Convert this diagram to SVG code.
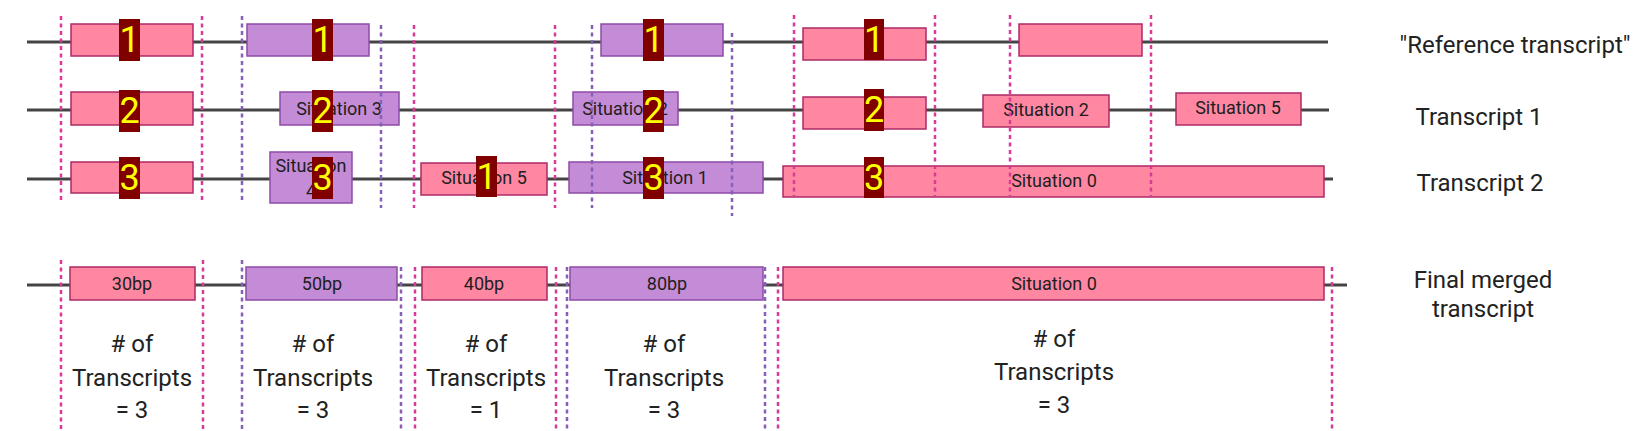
<svg xmlns="http://www.w3.org/2000/svg" width="1639" height="431" viewBox="0 0 1639 431">
<style>
.bg{fill:#ffffff}
.tl{stroke:#444444;stroke-width:3;fill:none}
.pk{fill:#ff87a1;stroke:#ad2a66;stroke-width:1.5}
.pu{fill:#c48bd7;stroke:#8e4ba8;stroke-width:1.5}
.gp{stroke:#d63c97;stroke-width:2.5;stroke-dasharray:4 3.5;fill:none}
.gv{stroke:#8560b8;stroke-width:2.5;stroke-dasharray:4 3.5;fill:none}
.bd{fill:#800000}
.bn{font-family:Roboto,"Liberation Sans",sans-serif;font-size:36px;fill:#ffff00;text-anchor:middle}
.st{font-family:Roboto,"Liberation Sans",sans-serif;font-size:18px;fill:#1e1e1e;text-anchor:middle}
.lb{font-family:Roboto,"Liberation Sans",sans-serif;font-size:24px;fill:#222222;text-anchor:middle}
</style>
<rect class="bg" x="0" y="0" width="1639" height="431"/>
<g id="connectors">
<line class="tl" x1="27" y1="42" x2="1328" y2="42"/>
<line class="tl" x1="27" y1="110" x2="1329" y2="110"/>
<line class="tl" x1="27" y1="179" x2="1333" y2="179"/>
<line class="tl" x1="27" y1="285" x2="1347" y2="285"/>
</g>
<g id="ref-transcript">
<g id="r1-e1"><rect class="pk" x="71" y="24" width="122" height="32"/><rect class="bd" x="119" y="19" width="21" height="42"/><text class="bn" x="129.5" y="52">1</text></g>
<g id="r1-e2"><rect class="pu" x="247" y="24" width="122" height="32"/><rect class="bd" x="312" y="19" width="21" height="42"/><text class="bn" x="322.5" y="52">1</text></g>
<g id="r1-e3"><rect class="pu" x="601" y="24" width="122" height="32"/><rect class="bd" x="643" y="19" width="21" height="42"/><text class="bn" x="653.5" y="52">1</text></g>
<g id="r1-e4"><rect class="pk" x="803" y="28" width="123" height="32"/><rect class="bd" x="864" y="19" width="20" height="41"/><text class="bn" x="874" y="52">1</text></g>
<g id="r1-e5"><rect class="pk" x="1019" y="24" width="123" height="32"/></g>
</g>
<g id="transcript-1">
<g id="t1-e1"><rect class="pk" x="71" y="92" width="122" height="33"/><rect class="bd" x="119" y="90" width="21" height="42"/><text class="bn" x="129.5" y="123">2</text></g>
<g id="t1-e2"><rect class="pu" x="280" y="92" width="119" height="33"/><text class="st" x="339" y="115">Situation 3</text><rect class="bd" x="312" y="90" width="21" height="42"/><text class="bn" x="322.5" y="123">2</text></g>
<g id="t1-e3"><rect class="pu" x="573" y="92" width="105" height="33"/><text class="st" x="625" y="115">Situation 2</text><rect class="bd" x="643" y="90" width="21" height="42"/><text class="bn" x="653.5" y="123">2</text></g>
<g id="t1-e4"><rect class="pk" x="803" y="97" width="123" height="32"/><rect class="bd" x="864" y="89" width="20" height="42"/><text class="bn" x="874" y="122">2</text></g>
<g id="t1-e5"><rect class="pk" x="983" y="95" width="126" height="32"/><text class="st" x="1046" y="116">Situation 2</text></g>
<g id="t1-e6"><rect class="pk" x="1176" y="93" width="125" height="32"/><text class="st" x="1238" y="114">Situation 5</text></g>
</g>
<g id="transcript-2">
<g id="t2-e1"><rect class="pk" x="71" y="162" width="122" height="31"/><rect class="bd" x="119" y="157" width="21" height="42"/><text class="bn" x="129.5" y="190">3</text></g>
<g id="t2-e2"><rect class="pu" x="270" y="152" width="82" height="51"/><text class="st" x="311" y="172">Situation</text><text class="st" x="311" y="197">4</text><rect class="bd" x="312" y="157" width="21" height="42"/><text class="bn" x="322.5" y="190">3</text></g>
<g id="t2-e3"><rect class="pk" x="421" y="163" width="126" height="32"/><text class="st" x="484" y="184">Situation 5</text><rect class="bd" x="476" y="156" width="21" height="41"/><text class="bn" x="486.5" y="189">1</text></g>
<g id="t2-e4"><rect class="pu" x="569" y="162" width="194" height="31"/><text class="st" x="665" y="184">Situation 1</text><rect class="bd" x="643" y="157" width="21" height="42"/><text class="bn" x="653.5" y="190">3</text></g>
<g id="t2-e5"><rect class="pk" x="783" y="166" width="541" height="31"/><text class="st" x="1054" y="187">Situation 0</text><rect class="bd" x="864" y="157" width="20" height="41"/><text class="bn" x="874" y="190">3</text></g>
</g>
<g id="merged-transcript">
<g id="m-e1"><rect class="pk" x="70" y="267" width="125" height="33"/><text class="st" x="132" y="290">30bp</text></g>
<g id="m-e2"><rect class="pu" x="246" y="267" width="151" height="33"/><text class="st" x="322" y="290">50bp</text></g>
<g id="m-e3"><rect class="pk" x="422" y="267" width="125" height="33"/><text class="st" x="484" y="290">40bp</text></g>
<g id="m-e4"><rect class="pu" x="570" y="267" width="193" height="33"/><text class="st" x="667" y="290">80bp</text></g>
<g id="m-e5"><rect class="pk" x="783" y="267" width="541" height="33"/><text class="st" x="1054" y="290">Situation 0</text></g>
</g>
<g id="guides">
<line class="gp" x1="61" y1="16" x2="61" y2="200"/>
<line class="gp" x1="202" y1="16" x2="202" y2="200"/>
<line class="gv" x1="242" y1="16" x2="242" y2="200"/>
<line class="gv" x1="381" y1="25" x2="381" y2="208"/>
<line class="gp" x1="414" y1="25" x2="414" y2="208"/>
<line class="gp" x1="555" y1="25" x2="555" y2="208"/>
<line class="gv" x1="592" y1="25" x2="592" y2="208"/>
<line class="gv" x1="732" y1="33" x2="732" y2="216"/>
<line class="gp" x1="794" y1="15" x2="794" y2="197"/>
<line class="gp" x1="935" y1="15" x2="935" y2="197"/>
<line class="gp" x1="1010" y1="15" x2="1010" y2="197"/>
<line class="gp" x1="1151" y1="15" x2="1151" y2="197"/>
<line class="gp" x1="61" y1="260" x2="61" y2="431"/>
<line class="gp" x1="203" y1="260" x2="203" y2="431"/>
<line class="gv" x1="242" y1="260" x2="242" y2="431"/>
<line class="gv" x1="401" y1="267" x2="401" y2="431"/>
<line class="gp" x1="415" y1="267" x2="415" y2="431"/>
<line class="gp" x1="556" y1="267" x2="556" y2="431"/>
<line class="gv" x1="567" y1="267" x2="567" y2="431"/>
<line class="gv" x1="765" y1="267" x2="765" y2="431"/>
<line class="gp" x1="778" y1="267" x2="778" y2="431"/>
<line class="gp" x1="1332" y1="267" x2="1332" y2="431"/>
</g>
<g id="labels">
<text class="lb" x="1515" y="53">"Reference transcript"</text>
<text class="lb" x="1479" y="125">Transcript 1</text>
<text class="lb" x="1480" y="191">Transcript 2</text>
<text class="lb" x="1483" y="288">Final merged</text>
<text class="lb" x="1483" y="317">transcript</text>
</g>
<g id="counts">
<text class="lb" x="132" y="352">
<tspan x="132" y="352"># of</tspan><tspan x="132" y="386">Transcripts</tspan><tspan x="132" y="418">= 3</tspan></text>
<text class="lb" x="313" y="352">
<tspan x="313" y="352"># of</tspan><tspan x="313" y="386">Transcripts</tspan><tspan x="313" y="418">= 3</tspan></text>
<text class="lb" x="486" y="352">
<tspan x="486" y="352"># of</tspan><tspan x="486" y="386">Transcripts</tspan><tspan x="486" y="418">= 1</tspan></text>
<text class="lb" x="664" y="352">
<tspan x="664" y="352"># of</tspan><tspan x="664" y="386">Transcripts</tspan><tspan x="664" y="418">= 3</tspan></text>
<text class="lb" x="1054" y="347">
<tspan x="1054" y="347"># of</tspan><tspan x="1054" y="380">Transcripts</tspan><tspan x="1054" y="413">= 3</tspan></text>
</g>
</svg>
